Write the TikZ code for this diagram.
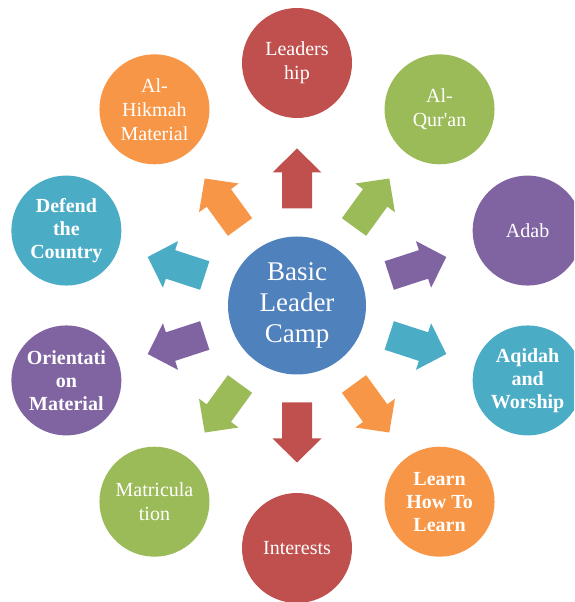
\documentclass[tikz,border=0pt]{standalone}
\usepackage{fontspec}
\setmainfont{Liberation Serif}
\usetikzlibrary{calc}
\definecolor{cred}{HTML}{C0504D}
\definecolor{cgreen}{HTML}{9BBB59}
\definecolor{cpurple}{HTML}{8064A2}
\definecolor{cteal}{HTML}{4BACC6}
\definecolor{corange}{HTML}{F79646}
\definecolor{cblue}{HTML}{4F81BD}
\tikzset{
  hub/.style={circle, fill=cblue, minimum size=138pt, inner sep=0pt, text=white, align=center,
    font=\fontsize{27}{31}\selectfont},
  topic/.style={circle, fill=#1, minimum size=110pt, inner sep=0pt, text=white, align=center,
    font=\fontsize{20}{24}\selectfont},
  btopic/.style={topic=#1, font=\bfseries\fontsize{20}{23}\selectfont},
}
\newcommand\blockarr[2]{%
  \fill[#2] [shift={(c)}, rotate=#1]
    (97,-15) -- (133,-15) -- (133,-24.5) -- (157,0) -- (133,24.5) -- (133,15) -- (97,15) -- cycle;}
\begin{document}
\begin{tikzpicture}[x=1pt,y=1pt]
\useasboundingbox (0,0) rectangle (574,602);
\clip (0,0) rectangle (574,602);
\coordinate (c) at (297,296.5);
\node[hub] (hub) at (c) {Basic\\Leader\\Camp};
\node[topic=cred]    (t1)  at ($(c)+(90:242.5)$)   {Leaders\\hip};
\node[topic=cgreen]  (t2)  at ($(c)+(54:242.5)$)   {Al-\\Qur\textquotesingle an};
\node[topic=cpurple] (t3)  at ($(c)+(18:242.5)$)   {Adab};
\node[btopic=cteal]  (t4)  at ($(c)+(-18:242.5)$)  {Aqidah\\and\\Worship};
\node[btopic=corange] (t5) at ($(c)+(-54:242.5)$)  {Learn\\How To\\Learn};
\node[topic=cred]    (t6)  at ($(c)+(-90:242.5)$)  {Interests};
\node[topic=cgreen]  (t7)  at ($(c)+(-126:242.5)$) {Matricula\\tion};
\node[btopic=cpurple] (t8) at ($(c)+(-162:242.5)$) {Orientati\\on\\Material};
\node[btopic=cteal]  (t9)  at ($(c)+(162:242.5)$)  {Defend\\the\\Country};
\node[topic=corange] (t10) at ($(c)+(126:242.5)$)  {Al-\\Hikmah\\Material};
\blockarr{90}{cred}
\blockarr{54}{cgreen}
\blockarr{18}{cpurple}
\blockarr{-18}{cteal}
\blockarr{-54}{corange}
\blockarr{-90}{cred}
\blockarr{-126}{cgreen}
\blockarr{-162}{cpurple}
\blockarr{162}{cteal}
\blockarr{126}{corange}
\end{tikzpicture}
\end{document}
